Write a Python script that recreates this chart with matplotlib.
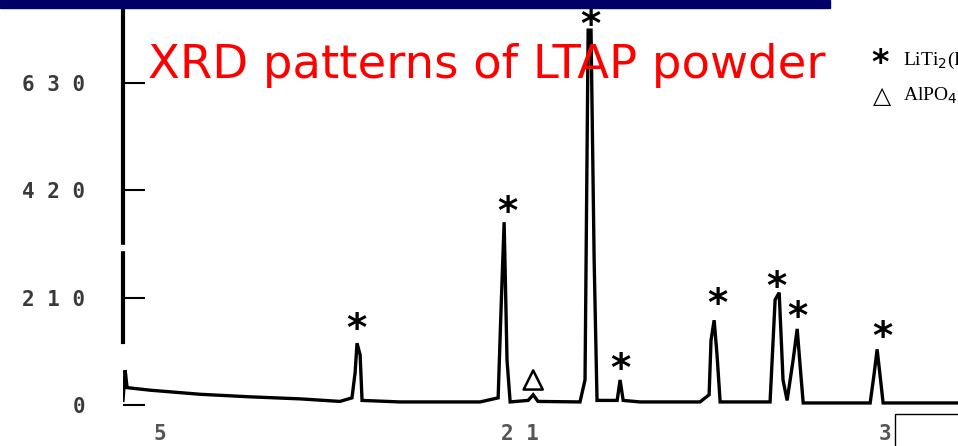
import matplotlib.pyplot as plt
from matplotlib.patches import Rectangle

# XRD pattern (2-theta in degrees, intensity in counts)
two_theta = [5.04, 5.13, 5.21, 6.17, 8.25, 10.33, 12.42, 14.08, 14.58, 14.71, 14.79, 14.92, 15.0,
             16.58, 19.92, 20.67, 20.79, 20.92, 21.04, 21.17, 21.92, 22.13, 22.33, 24.08, 24.29,
             24.42, 24.54, 24.67, 24.79, 25.63, 25.75, 25.88, 26.58, 29.08, 29.46, 29.54, 29.67,
             29.79, 29.92, 32.0, 32.21, 32.38, 32.54, 32.71, 32.96, 33.13, 33.25, 33.38, 36.17,
             36.33, 36.46, 36.58, 36.71, 39.83]
intensity = [9, 68, 34, 29, 21, 16, 12, 7, 14, 63, 121, 98, 9,
             6, 6, 14, 186, 358, 88, 6, 9, 20, 7, 6, 49,
             734, 734, 284, 9, 9, 49, 9, 6, 6, 20, 127, 166,
             98, 6, 6, 206, 220, 49, 9, 88, 149, 78, 4, 4,
             59, 109, 59, 4, 4]

# peaks marked with * (LiTi2(PO4)3) and the triangle (AlPO4)
star_pos = [14.75, 21.04, 24.5, 25.75, 29.79, 32.25, 33.13, 36.67]
star_int = [147, 376, 742, 68, 196, 229, 170, 131]
tri_pos = [22.13]
tri_int = [49]

ytick_vals = [0, 210, 420, 630]
ytick_labels = ['0', '2 1 0', '4 2 0', '6 3 0']
xtick_vals = [6.58, 21.58, 36.79]
xtick_labels = ['5', '2 1', '3']

fig = plt.figure(figsize=(9.58, 4.46), dpi=100)
ax = fig.add_axes([123 / 958, 41 / 446, 835 / 958, 405 / 446])
ax.set_xlim(5.04, 39.83)
ax.set_ylim(0, 793)

ax.plot(two_theta, intensity, color='black', lw=2.4, solid_joinstyle='miter')

for x, y in zip(star_pos, star_int):
    ax.text(x, y, '*', fontsize=28, fontweight='bold', ha='center', va='center', color='black')
ax.scatter(tri_pos, tri_int, marker='^', s=190, facecolors='none', edgecolors='black', linewidths=1.8)

for s in ['top', 'right', 'bottom']:
    ax.spines[s].set_visible(False)
ax.spines['left'].set_linewidth(3)
ax.spines['left'].set_bounds(123, 772)
# small break in the scanned axis line
ax.add_patch(Rectangle((119 / 958, 1 - 250 / 446), 8 / 958, 5 / 446,
                       transform=fig.transFigure, color='white', zorder=5, clip_on=False))

ax.set_yticks(ytick_vals)
ax.set_yticklabels(ytick_labels, family='DejaVu Sans Mono', fontweight='bold')
ax.tick_params(axis='y', direction='in', length=16, width=1.5, pad=27,
               labelsize=15, labelcolor='#3a3a3a')
ax.set_xticks(xtick_vals)
ax.set_xticklabels(xtick_labels, family='DejaVu Sans Mono', fontweight='bold')
ax.tick_params(axis='x', length=0, pad=14, labelsize=15, labelcolor='#555555')

# title and legend
fig.text(148 / 958, 1 - 66 / 446, 'XRD patterns of LTAP powder', color='red',
         fontsize=33.5, ha='left', va='center')
fig.text(880 / 958, 1 - 64 / 446, '*', fontsize=24, fontweight='bold', ha='center', va='center')
fig.text(903 / 958, 1 - 60 / 446, 'LiTi$_2$(PO$_4$)$_3$', fontsize=14,
         family='Liberation Serif', ha='left', va='center')
fig.text(882 / 958, 1 - 96 / 446, '\u25b3', fontsize=17, ha='center', va='center')
fig.text(903 / 958, 1 - 96 / 446, 'AlPO$_4$', fontsize=14,
         family='Liberation Serif', ha='left', va='center')

# navy banner at the top and the box corner at bottom right
fig.patches.append(Rectangle((0, 1 - 8 / 446), 830 / 958, 8 / 446,
                             transform=fig.transFigure, color='#000066'))
fig.patches.append(Rectangle((895 / 958, -0.05), 0.2, (446 - 414) / 446 + 0.05,
                             transform=fig.transFigure, fill=False,
                             edgecolor='black', lw=1))

fig.savefig('out.png', dpi=100)
